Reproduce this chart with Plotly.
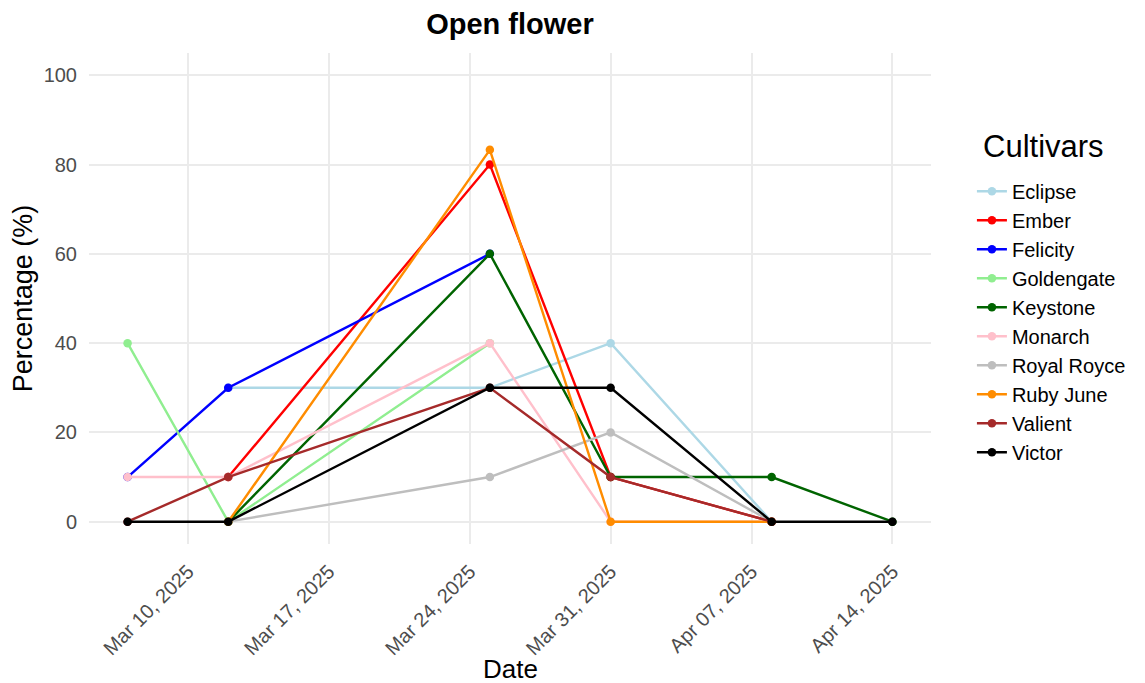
import plotly.graph_objects as go

dates = ["2025-03-07", "2025-03-12", "2025-03-25", "2025-03-31", "2025-04-08", "2025-04-14"]

cultivars = ["Eclipse", "Ember", "Felicity", "Goldengate", "Keystone",
             "Monarch", "Royal Royce", "Ruby June", "Valient", "Victor"]
colors = ["#add8e6", "#ff0000", "#0000ff", "#90ee90", "#006400",
          "#ffc0cb", "#bebebe", "#ff8c00", "#a52a2a", "#000000"]

eclipse     = [None, 30, 30, 40, 0, None]
ember       = [None, 10, 80, 10, 0, None]
felicity    = [10, 30, 60, None, None, None]
goldengate  = [40, 0, 40, None, None, None]
keystone    = [None, 0, 60, 10, 10, 0]
monarch     = [10, 10, 40, 0, 0, None]
royal_royce = [None, 0, 10, 20, 0, None]
ruby_june   = [None, 0, 83.3, 0, 0, None]
valient     = [0, 10, 30, 10, 0, None]
victor      = [0, 0, 30, 30, 0, 0]

series = [eclipse, ember, felicity, goldengate, keystone,
          monarch, royal_royce, ruby_june, valient, victor]

tick_dates = ["2025-03-10", "2025-03-17", "2025-03-24", "2025-03-31", "2025-04-07", "2025-04-14"]
tick_labels = ["Mar 10, 2025", "Mar 17, 2025", "Mar 24, 2025", "Mar 31, 2025", "Apr 07, 2025", "Apr 14, 2025"]
y_ticks = [0, 20, 40, 60, 80, 100]

fig = go.Figure()
for name, col, vals in zip(cultivars, colors, series):
    xs = [d for d, v in zip(dates, vals) if v is not None]
    ys = [v for v in vals if v is not None]
    fig.add_trace(go.Scatter(
        x=xs, y=ys, name=name, mode="lines+markers",
        line=dict(color=col, width=2.4),
        marker=dict(color=col, size=8.5),
    ))

font_family = "Liberation Sans, Arial, sans-serif"
W, H = 1145, 683
L, R, T, B = 81, 222, 45, 147
PW, PH = W - L - R, H - T - B
fig.update_layout(
    width=W, height=H,
    paper_bgcolor="white", plot_bgcolor="white",
    margin=dict(l=L, r=R, t=T, b=B, autoexpand=False),
    font=dict(family=font_family, color="black"),
    title=dict(text="<b>Open flower</b>", x=(L + (W - R)) / 2 / W, xanchor="center",
               y=1 - 16 / H, yanchor="middle", font=dict(size=29, color="black")),
    xaxis=dict(
        type="date",
        range=["2025-03-05 02:00", "2025-04-15 22:00"],
        tickvals=tick_dates,
        ticktext=tick_labels,
        tickangle=-45,
        tickfont=dict(size=20, color="#4d4d4d"),
        ticklabelstandoff=11,
        showgrid=True, gridcolor="#ebebeb", gridwidth=1.8,
        zeroline=False, showline=False, ticks="", automargin=False,
    ),
    yaxis=dict(
        range=[-5, 105],
        tickvals=y_ticks,
        tickfont=dict(size=20, color="#4d4d4d"),
        ticklabelstandoff=11,
        showgrid=True, gridcolor="#ebebeb", gridwidth=1.8,
        zeroline=False, showline=False, ticks="", automargin=False,
        title=dict(text="Percentage (%)", font=dict(size=27, color="black"), standoff=6),
    ),
    legend=dict(
        font=dict(size=20, color="black"),
        x=1.0486, xanchor="left", y=0.758, yanchor="top",
        tracegroupgap=0, itemwidth=30,
        bgcolor="rgba(0,0,0,0)",
    ),
    annotations=[
        dict(
            text="Cultivars", xref="paper", yref="paper",
            x=1.0598, xanchor="left", y=(H - B - 138) / PH, yanchor="middle",
            showarrow=False, font=dict(size=31, color="black"),
        ),
        dict(
            text="Date", xref="paper", yref="paper",
            x=0.5, xanchor="center", y=-(661 - (H - B)) / PH, yanchor="middle",
            showarrow=False, font=dict(size=26, color="black"),
        ),
    ],
    showlegend=True,
)

fig.write_html("out.html")
